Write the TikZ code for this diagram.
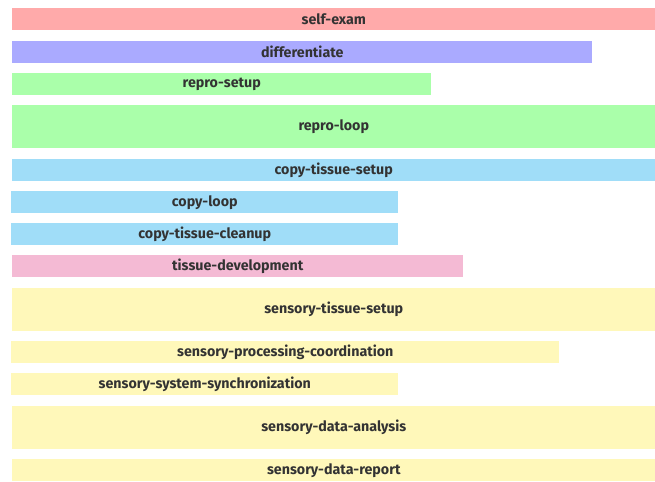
\documentclass[tikz,border=0pt]{standalone}
\usepackage{fontspec}
\setmainfont{Fira Sans}
\usetikzlibrary{positioning}
\definecolor{examred}{HTML}{FFAAAA}
\definecolor{diffblue}{HTML}{AAAAFF}
\definecolor{reprogreen}{HTML}{AAFFAA}
\definecolor{copyblue}{HTML}{A0DDF8}
\definecolor{tissuepink}{HTML}{F4BAD4}
\definecolor{sensoryyellow}{HTML}{FFF8BA}
\definecolor{labelgray}{HTML}{333333}
\tikzset{
  phase/.style={
    anchor=north west, inner sep=0pt, minimum height=22*0.75pt,
    text=labelgray, font=\fontsize{10.7pt}{12pt}\selectfont\bfseries
  },
  tall/.style={minimum height=43*0.75pt},
  wd/.style={minimum width=#1*0.75pt}
}

\begin{document}
\begin{tikzpicture}[x=0.75pt, y=-0.75pt]
  \useasboundingbox (0,0) rectangle (655,481);

  \node[phase, fill=examred, wd=643] (exam) at (12,8) {self-exam};
  \node[phase, fill=diffblue, wd=580] (diff) at (12,41) {differentiate};
  \node[phase, fill=reprogreen, wd=419] (reprosetup) at (12,73) {repro-setup};
  \node[phase, tall, fill=reprogreen, wd=643] (reproloop) at (12,105) {repro-loop};

  \node[phase, fill=copyblue, wd=643] (copysetup) at (12,159) {copy-tissue-setup};
  \node[phase, fill=copyblue, wd=387] (copyloop) at (11,191) {copy-loop};
  \node[phase, fill=copyblue, wd=387] (copyclean) at (11,223) {copy-tissue-cleanup};
  \node[phase, fill=tissuepink, wd=451] (tissuedev) at (12,255) {tissue-development};

  \node[phase, tall, fill=sensoryyellow, wd=643] (senssetup) at (12,288) {sensory-tissue-setup};
  \node[phase, fill=sensoryyellow, wd=548] (sensproc) at (11,341) {sensory-processing-coordination};
  \node[phase, fill=sensoryyellow, wd=387] (senssync) at (11,373) {sensory-system-synchronization};
  \node[phase, tall, fill=sensoryyellow, wd=643] (sensanalysis) at (12,406) {sensory-data-analysis};
  \node[phase, fill=sensoryyellow, wd=643] (sensreport) at (12,459) {sensory-data-report};
\end{tikzpicture}
\end{document}
